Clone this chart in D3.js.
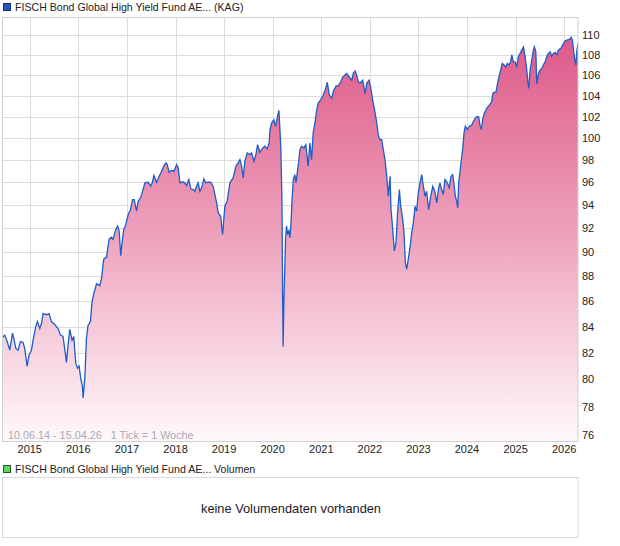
<!DOCTYPE html>
<html><head><meta charset="utf-8">
<script src="https://cdn.jsdelivr.net/npm/d3@7"></script>
<style>
html,body{margin:0;padding:0;background:#fff;}
svg{display:block;font-family:"Liberation Sans",Arial,sans-serif;}
</style></head>
<body><svg id="c" width="620" height="546"></svg>
<script>
const seriesName = "FISCH Bond Global High Yield Fund AE... (KAG)";
const volumeName = "FISCH Bond Global High Yield Fund AE... Volumen";
const rangeText = "10.06.14 - 15.04.26   1 Tick = 1 Woche";
const noVolumeText = "keine Volumendaten vorhanden";
const yTicks = [76,78,80,82,84,86,88,90,92,94,96,98,100,102,104,106,108,110];
const xYears = [2015,2016,2017,2018,2019,2020,2021,2022,2023,2024,2025,2026];
const dates = [
"2014-06-10","2014-06-27","2014-07-14","2014-08-04","2014-08-24","2014-09-03","2014-09-18","2014-10-05","2014-10-23","2014-11-12",
"2014-11-24","2014-12-12","2014-12-27","2015-01-14","2015-01-26","2015-02-15","2015-02-28","2015-03-17","2015-03-30","2015-04-11",
"2015-05-07","2015-05-26","2015-06-13","2015-07-08","2015-08-02","2015-08-20","2015-09-08","2015-09-27","2015-10-04","2015-10-16",
"2015-10-29","2015-11-15","2015-11-28","2015-12-13","2015-12-26","2016-01-07","2016-01-19","2016-02-01","2016-02-06","2016-02-19",
"2016-03-02","2016-03-14","2016-04-01","2016-04-13","2016-04-26","2016-05-17","2016-06-10","2016-06-23","2016-07-10","2016-07-31",
"2016-08-19","2016-09-06","2016-09-18","2016-10-09","2016-10-22","2016-11-03","2016-11-15","2016-11-25","2016-12-08","2016-12-23",
"2017-01-10","2017-01-28","2017-02-12","2017-02-24","2017-03-14","2017-03-26","2017-04-13","2017-04-28","2017-05-16","2017-06-09",
"2017-06-28","2017-07-10","2017-07-22","2017-08-12","2017-08-31","2017-09-18","2017-10-06","2017-10-21","2017-10-30","2017-11-14",
"2017-12-03","2017-12-20","2018-01-09","2018-01-21","2018-02-03","2018-02-23","2018-03-12","2018-03-25","2018-04-11","2018-04-26",
"2018-05-14","2018-05-27","2018-06-08","2018-06-20","2018-07-03","2018-07-16","2018-08-02","2018-08-17","2018-09-04","2018-09-22",
"2018-10-11","2018-10-24","2018-11-06","2018-11-18","2018-12-06","2018-12-21","2019-01-07","2019-01-24","2019-02-14","2019-03-10",
"2019-03-31","2019-04-17","2019-04-30","2019-05-13","2019-05-25","2019-06-06","2019-06-24","2019-07-14","2019-07-27","2019-08-13",
"2019-08-28","2019-09-10","2019-09-27","2019-10-18","2019-11-04","2019-11-21","2019-12-06","2019-12-12","2019-12-24","2020-01-10",
"2020-01-23","2020-02-04","2020-02-17","2020-02-25","2020-03-03","2020-03-11","2020-03-16","2020-03-20","2020-03-26","2020-04-02",
"2020-04-07","2020-04-15","2020-04-22","2020-05-02","2020-05-10","2020-05-17","2020-05-25","2020-06-04","2020-06-16","2020-06-24",
"2020-07-04","2020-07-14","2020-07-24","2020-08-06","2020-08-23","2020-09-07","2020-09-24","2020-10-07","2020-10-20","2020-11-01",
"2020-11-14","2020-11-27","2020-12-09","2020-12-27","2021-01-16","2021-02-05","2021-02-15","2021-03-02","2021-03-20","2021-04-01",
"2021-04-22","2021-05-09","2021-05-27","2021-06-11","2021-06-28","2021-07-11","2021-07-31","2021-08-18","2021-08-30","2021-09-12",
"2021-09-24","2021-10-06","2021-10-19","2021-11-08","2021-11-26","2021-12-09","2021-12-26","2022-01-07","2022-01-22","2022-02-09",
"2022-02-22","2022-03-06","2022-03-18","2022-03-31","2022-04-12","2022-04-25","2022-05-08","2022-05-20","2022-06-02","2022-06-09",
"2022-06-22","2022-07-04","2022-07-17","2022-07-27","2022-08-11","2022-08-21","2022-09-05","2022-09-15","2022-09-25","2022-10-05",
"2022-10-17","2022-10-30","2022-11-12","2022-11-24","2022-12-07","2022-12-19","2022-12-31","2023-01-13","2023-01-26","2023-02-07",
"2023-02-20","2023-03-04","2023-03-19","2023-04-04","2023-04-19","2023-05-04","2023-05-19","2023-05-31","2023-06-12","2023-06-25",
"2023-07-07","2023-07-20","2023-08-06","2023-08-21","2023-09-03","2023-09-16","2023-09-26","2023-10-06","2023-10-16","2023-10-24",
"2023-10-31","2023-11-10","2023-11-23","2023-11-30","2023-12-10","2023-12-20","2024-01-04","2024-01-19","2024-02-06","2024-02-18",
"2024-03-02","2024-03-14","2024-03-29","2024-04-08","2024-04-18","2024-04-28","2024-05-11","2024-05-29","2024-06-17","2024-07-05",
"2024-07-13","2024-07-25","2024-08-07","2024-08-16","2024-08-29","2024-09-11","2024-09-23","2024-10-06","2024-10-19","2024-10-31",
"2024-11-12","2024-11-25","2024-12-03","2024-12-15","2024-12-28","2025-01-10","2025-01-22","2025-02-04","2025-02-17","2025-03-01",
"2025-03-13","2025-03-26","2025-04-03","2025-04-10","2025-04-20","2025-05-03","2025-05-15","2025-05-22","2025-06-02","2025-06-09",
"2025-06-22","2025-07-04","2025-07-17","2025-07-29","2025-08-11","2025-08-24","2025-09-05","2025-09-18","2025-09-30","2025-10-12",
"2025-10-25","2025-11-07","2025-11-19","2025-12-07","2025-12-22","2026-01-08","2026-01-25","2026-02-09","2026-02-22","2026-03-04",
"2026-03-12","2026-03-22","2026-03-30","2026-04-06","2026-04-15"
];
const values = [
83.17,83.35,82.9,82.2,83.5,83.1,82.33,82.2,82.86,82.79,
82.33,81.0,81.83,82.2,82.96,84.0,84.4,83.86,84.25,85.02,
84.94,85.02,84.4,84.17,83.86,83.35,83.25,81.83,81.28,82.58,
83.8,82.96,83.25,81.2,80.84,81.0,80.1,79.5,78.65,80.1,
83.09,84.1,84.4,85.95,86.59,87.4,87.25,87.79,89.41,89.58,
91.07,91.24,91.07,91.91,92.2,91.77,89.7,90.8,91.91,92.33,
93.18,93.61,94.48,94.48,93.47,94.33,94.63,95.2,95.95,96.0,
95.65,95.95,96.6,96.0,96.53,96.98,97.5,97.73,97.58,96.89,
97.07,96.98,97.58,97.28,95.95,96.04,95.95,95.71,96.24,95.42,
95.36,95.21,95.65,95.95,95.21,95.51,96.3,95.95,96.0,96.0,
95.65,94.92,94.19,93.33,93.04,91.49,93.9,94.33,95.95,96.39,
97.43,97.73,98.03,97.43,96.39,97.88,98.64,98.49,98.64,97.88,
98.49,99.4,98.7,99.1,99.25,99.0,99.55,100.8,101.4,101.7,
101.1,101.85,102.6,100.8,98.94,94.48,86.47,82.46,86.19,88.86,
91.07,92.2,91.49,91.77,91.2,92.2,94.19,96.24,96.68,95.95,
96.83,97.73,98.94,99.25,99.1,99.4,97.43,99.55,98.03,100.5,
101.4,102.6,103.3,103.6,104.07,104.8,105.3,104.07,103.75,104.4,
104.95,104.95,105.35,105.8,106.0,106.15,105.8,105.5,106.2,106.4,
106.0,105.35,105.2,105.5,104.2,105.2,105.5,104.8,103.6,102.4,
101.4,100.2,99.86,99.86,98.94,98.03,96.53,94.77,96.53,93.61,
91.91,90.1,90.8,93.04,95.36,93.9,92.76,91.63,89.14,88.6,
89.41,90.4,91.63,92.48,93.9,93.47,95.07,95.95,96.68,95.65,
94.77,95.21,93.61,94.77,95.65,95.21,94.19,95.36,95.95,95.36,
94.92,96.24,95.95,95.51,96.53,96.68,95.8,94.77,94.33,93.76,
95.95,96.98,98.33,98.94,100.5,101.1,100.8,101.1,101.2,101.55,
101.85,102.0,102.0,101.2,100.8,101.7,102.35,102.8,103.1,103.4,
104.2,104.35,104.35,105.05,105.85,106.5,107.15,107.0,106.8,107.15,
107.0,107.3,108.0,107.3,107.3,106.8,107.85,108.15,108.5,108.8,
107.85,106.5,105.35,104.7,106.5,107.5,108.5,108.8,108.3,105.15,
106.15,106.5,106.65,107.0,107.3,107.85,108.15,108.3,107.85,108.15,
108.25,108.0,108.5,108.65,109.0,109.4,109.5,109.55,109.75,109.5,
108.5,107.5,107.0,108.35,109.2
];

const parse = d3.timeParse("%Y-%m-%d");
const data = dates.map((d,i)=>({date:parse(d), value:values[i]}));

const svg = d3.select("#c");
const plot = {left:2.5, right:578, top:17, bottom:441.5};

const x = d3.scaleTime()
  .domain([parse("2014-06-10"), parse("2026-04-15")])
  .range([plot.left, plot.right]);
const y = d3.scaleLog()
  .domain([76,110])
  .range([435,35]);

const defs = svg.append("defs");
const grad = defs.append("linearGradient").attr("id","fillGrad")
  .attr("gradientUnits","userSpaceOnUse")
  .attr("x1",0).attr("x2",0).attr("y1",plot.top).attr("y2",plot.bottom);
grad.append("stop").attr("offset",0).attr("stop-color","#dc5284");
grad.append("stop").attr("offset",0.5).attr("stop-color","#eda0bb");
grad.append("stop").attr("offset",1).attr("stop-color","#fff9fb");
defs.append("clipPath").attr("id","plotClip").append("rect")
  .attr("x",plot.left).attr("y",plot.top)
  .attr("width",plot.right-plot.left).attr("height",plot.bottom-plot.top);

// grid
const grid = svg.append("g").attr("stroke","#dcdcdc").attr("stroke-width",1);
grid.selectAll("line.h").data(yTicks).join("line")
  .attr("x1",plot.left).attr("x2",plot.right)
  .attr("y1",d=>Math.round(y(d))+0.5).attr("y2",d=>Math.round(y(d))+0.5);
grid.selectAll("line.v").data(xYears).join("line")
  .attr("x1",d=>Math.round(x(new Date(d,0,1)))+0.5)
  .attr("x2",d=>Math.round(x(new Date(d,0,1)))+0.5)
  .attr("y1",plot.top).attr("y2",plot.bottom);

// area + line
const g = svg.append("g").attr("clip-path","url(#plotClip)");
g.append("path").datum(data)
  .attr("fill","url(#fillGrad)")
  .attr("d", d3.area().x(d=>x(d.date)).y0(plot.bottom).y1(d=>y(d.value)));
g.append("path").datum(data)
  .attr("fill","none").attr("stroke","#1f5cc8").attr("stroke-width",1.3)
  .attr("stroke-linejoin","miter")
  .attr("d", d3.line().x(d=>x(d.date)).y(d=>y(d.value)));

// border
svg.append("rect").attr("x",plot.left).attr("y",plot.top+0.5)
  .attr("width",plot.right-plot.left).attr("height",plot.bottom-plot.top-0.5)
  .attr("fill","none").attr("stroke","#d0d0d0").attr("stroke-width",1);

// y axis labels (right)
svg.append("g").selectAll("text").data(yTicks).join("text")
  .attr("x",582).attr("y",d=>y(d)).attr("dy","0.35em")
  .attr("font-size",11).attr("fill","#222")
  .text(d=>d);

// x axis labels
svg.append("g").selectAll("text").data(xYears).join("text")
  .attr("x",d=>x(new Date(d,0,1))).attr("y",453)
  .attr("text-anchor","middle")
  .attr("font-size",11).attr("fill","#222")
  .text(d=>d);

// range text
svg.append("text").attr("x",8).attr("y",439)
  .attr("font-size",10.8).attr("fill","#a8a8b4")
  .attr("xml:space","preserve").style("white-space","pre")
  .text(rangeText);

// legends
svg.append("rect").attr("x",3.5).attr("y",3.5).attr("width",7).attr("height",7)
  .attr("fill","#2258c4").attr("stroke","#1a2f66");
svg.append("text").attr("x",15).attr("y",11).attr("font-size",10.6).attr("fill","#222").text(seriesName);

svg.append("rect").attr("x",3.5).attr("y",465.5).attr("width",7).attr("height",7)
  .attr("fill","#5fd35f").attr("stroke","#2a5a2a");
svg.append("text").attr("x",15).attr("y",473).attr("font-size",10.6).attr("fill","#222").text(volumeName);

// volume panel
svg.append("rect").attr("x",2.5).attr("y",477.5).attr("width",575.5).attr("height",60)
  .attr("fill","#fff").attr("stroke","#d8d8d8");
svg.append("text").attr("x",291).attr("y",512.5).attr("text-anchor","middle")
  .attr("font-size",12.8).attr("fill","#1a1a2a").text(noVolumeText);
</script>
</body></html>
